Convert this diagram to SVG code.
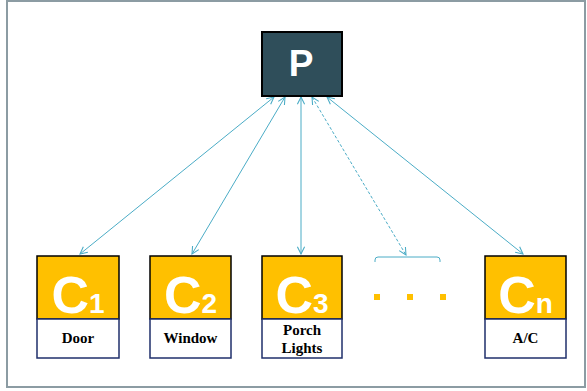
<svg xmlns="http://www.w3.org/2000/svg" width="587" height="391" viewBox="0 0 587 391">
<style>
.frame{fill:#fff;stroke:#8c9ca3;stroke-width:2}
.pbox{fill:#2f4e5a;stroke:#000;stroke-width:2}
.orange{fill:#ffc000;stroke:#000;stroke-width:1.5}
.white{fill:#fff;stroke:#1f2f6b;stroke-width:1.5}
.big{font-family:"Liberation Sans",Arial,sans-serif;font-weight:bold;fill:#fff}
.lbl{font-family:"Liberation Serif","Times New Roman",serif;font-weight:bold;font-size:15px;fill:#000;text-anchor:middle}
.conn{stroke:#4bacc6;stroke-width:1;fill:none;marker-start:url(#ah);marker-end:url(#ah)}
.dot{fill:#ffc000}
</style>
<defs>
<marker id="ah" viewBox="0 0 10 10" refX="9" refY="5" markerWidth="9" markerHeight="9" markerUnits="userSpaceOnUse" orient="auto-start-reverse">
<path d="M1,1 L9,5 L1,9" fill="none" stroke="#4bacc6" stroke-width="1.2"/>
</marker>
</defs>
<rect x="7" y="1" width="578" height="386" class="frame"/>
<g id="connectors">
<line class="conn" x1="274" y1="97" x2="80" y2="254"/>
<line class="conn" x1="285" y1="97" x2="192" y2="254"/>
<line class="conn" x1="301" y1="97" x2="301" y2="254"/>
<line class="conn" x1="312" y1="97" x2="406" y2="255" stroke-dasharray="3,2"/>
<line class="conn" x1="327" y1="97" x2="523" y2="254"/>
</g>
<g id="P">
<rect class="pbox" x="262" y="32" width="80" height="64"/>
<text class="big" x="301" y="76" font-size="37" text-anchor="middle">P</text>
</g>
<g id="C1">
<rect class="orange" x="37" y="256" width="82" height="63"/>
<rect class="white" x="37" y="319" width="82" height="39"/>
<text class="big" x="78" y="313" font-size="52" text-anchor="middle">C<tspan font-size="28">1</tspan></text>
<text class="lbl" x="78" y="343">Door</text>
</g>
<g id="C2">
<rect class="orange" x="150" y="256" width="81" height="63"/>
<rect class="white" x="150" y="319" width="81" height="39"/>
<text class="big" x="190.5" y="313" font-size="52" text-anchor="middle">C<tspan font-size="28">2</tspan></text>
<text class="lbl" x="190.5" y="343">Window</text>
</g>
<g id="C3">
<rect class="orange" x="262" y="256" width="80" height="63"/>
<rect class="white" x="262" y="319" width="80" height="39"/>
<text class="big" x="302" y="313" font-size="52" text-anchor="middle">C<tspan font-size="28">3</tspan></text>
<text class="lbl" x="302" y="335">Porch</text>
<text class="lbl" x="302" y="353">Lights</text>
</g>
<g id="ellipsis">
<path d="M375,262 L375,260 Q375,257 378,257 L437,257 Q440,257 440,260 L440,262" fill="none" stroke="#4bacc6" stroke-width="1"/>
<rect class="dot" x="374" y="294" width="6" height="6"/>
<rect class="dot" x="407" y="294" width="6" height="6"/>
<rect class="dot" x="440" y="294" width="6" height="6"/>
</g>
<g id="Cn">
<rect class="orange" x="485" y="256" width="81" height="63"/>
<rect class="white" x="485" y="319" width="81" height="39"/>
<text class="big" x="525.5" y="313" font-size="52" text-anchor="middle">C<tspan font-size="28">n</tspan></text>
<text class="lbl" x="525.5" y="343">A/C</text>
</g>
</svg>
